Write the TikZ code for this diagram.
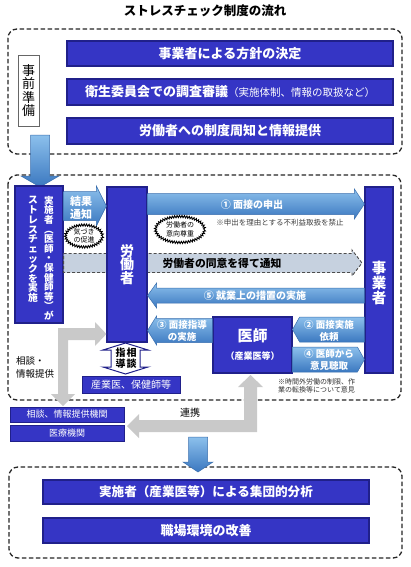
\documentclass[tikz,border=0pt]{standalone}
\usepackage{fontspec}
\setmainfont{Noto Sans CJK JP}
\usetikzlibrary{calc,shapes.geometric,decorations.pathmorphing}
\definecolor{boxblue}{HTML}{3535C5}
\definecolor{boxedge}{HTML}{20208A}
\definecolor{arrowtop}{HTML}{8CC0EC}
\definecolor{arrowbot}{HTML}{3B78C0}
\definecolor{arrowedge}{HTML}{3A6FAE}
\definecolor{grayconn}{HTML}{C9C9C9}
\definecolor{agreefill}{HTML}{C6D1DF}
\newcommand\fs[1]{\fontsize{#1}{#1}\selectfont}
\newcommand\fss[2]{\fontsize{#1}{#2}\selectfont}
% horizontal block arrow: [style]{start}{tip}{half body}{half head}{head length}
\newcommand\harrow[6][]{%
 \path[#1] let \p1=#2, \p2=#3, \n1={ifthenelse(\x2>\x1,1,-1)} in
 (\x1,{\y1+#4}) -- ({\x2-\n1*#6},{\y1+#4}) -- ({\x2-\n1*#6},{\y1+#5}) -- (\x2,\y1)
 -- ({\x2-\n1*#6},{\y1-#5}) -- ({\x2-\n1*#6},{\y1-#4}) -- (\x1,{\y1-#4}) -- cycle;}
\newcommand\varrow[6][]{%
 \path[#1] let \p1=#2, \p2=#3, \n1={ifthenelse(\y2>\y1,1,-1)} in
 ({\x1+#4},\y1) -- ({\x1+#4},{\y2-\n1*#6}) -- ({\x1+#5},{\y2-\n1*#6}) -- (\x1,\y2)
 -- ({\x1-#5},{\y2-\n1*#6}) -- ({\x1-#4},{\y2-\n1*#6}) -- ({\x1-#4},\y1) -- cycle;}
\begin{document}
\begin{tikzpicture}[x=1pt,y=-1pt,
 dashbox/.style={draw=black!85, line width=1.3pt, dash pattern=on 4.5pt off 2.5pt, rounded corners=9pt},
 bluebox/.style={draw=boxedge, line width=1.2pt, fill=boxblue, text=white, inner sep=0pt, align=center},
 barbox/.style={bluebox, minimum width=326pt},
 barrow/.style={draw=arrowedge, line width=0.5pt, top color=arrowtop, bottom color=arrowbot},
 agree/.style={draw=black!70, line width=0.9pt, dash pattern=on 3pt off 2pt, fill=agreefill},
 grayarrow/.style={fill=grayconn},
 lbl/.style={inner sep=0pt, align=center},
 wlbl/.style={lbl, text=white, font=\bfseries},
 cloudtext/.style={lbl, font=\fss{7}{8.5}},
 cloudring/.style={draw=black, fill=white, line width=0.9pt, decorate, decoration={zigzag, segment length=2.4pt, amplitude=1.1pt}},
]
\useasboundingbox (0,0) rectangle (410,567);
\fill[white] (0,0) rectangle (410,567);

% title
\node[lbl, font=\bfseries\fs{12.5}] (title) at (205,11) {ストレスチェック制度の流れ};

% preparation block
\draw[dashbox] (8,29) rectangle (402,154);
\node[draw=black!60, line width=0.8pt, fill=white, minimum width=21pt, minimum height=71pt, inner sep=0pt, align=center, font=\fss{13}{13.5}] (prep) at (28.5,90.5) {事\\前\\準\\備};
\node[barbox, minimum height=25pt, font=\bfseries\fs{13}] (b1) at (230,53.5) {事業者による方針の決定};
\node[barbox, minimum height=26pt] (b2) at (230,92) {\bfseries\fs{13}衛生委員会での調査審議\mdseries\fs{10.5}（実施体制、情報の取扱など）};
\node[barbox, minimum height=26pt, font=\bfseries\fs{13}] (b3) at (230,131) {労働者への制度周知と情報提供};

% middle block
\draw[dashbox] (8,175) rectangle (401,400);
\coordinate (pa) at (40,135);
\coordinate (pb) at (40,187);
\varrow[barrow]{(pa)}{(pb)}{9.5pt}{19pt}{11pt}

\node[bluebox, minimum width=48pt, minimum height=137pt] (impl) at (39,254.5) {};
\node[wlbl, font=\bfseries\fs{9.6}, anchor=north] (implA) at (49,196) {実\\施\\者\\︵\\医\\師\\・\\保\\健\\師\\等\\︶\\が};
\node[wlbl, font=\bfseries\fs{9.8}, anchor=north] (implB) at (33,196) {ス\\ト\\レ\\ス\\チ\\ェ\\ッ\\ク\\を\\実\\施};

% agreement arrow (behind worker)
\harrow[agree]{(impl.east |- 0,263)}{(362,263)}{9.5pt}{13pt}{10pt}
\node[lbl, font=\bfseries\fs{10.8}] (doui) at (222,263) {労働者の同意を得て通知};

\node[bluebox, minimum width=40pt, minimum height=155pt, font=\bfseries\fss{14}{13.8}] (worker) at (127,264.5) {労\\働\\者};
\node[bluebox, minimum width=28pt, minimum height=186pt] (employer) at (379,280) {};
\node[wlbl, font=\bfseries\fss{14.5}{15}] (employerT) at (379,283) {事\\業\\者};
\node[bluebox, minimum width=79pt, minimum height=56pt] (doctor) at (252.5,345) {};
\node[wlbl, font=\bfseries\fs{15}] (doctorA) at (252.5,336) {医師};
\node[wlbl, font=\bfseries\fs{9}] (doctorB) at (252.5,356) {（産業医等）};

% result notice
\harrow[barrow]{(impl.east |- 0,206)}{(worker.west |- 0,206)}{14.5pt}{20pt}{10pt}
\node[wlbl, font=\bfseries\fss{11}{13}] (kekka) at (81,208) {結果\\通知};
\coordinate (kz) at (84,236);
\draw[cloudring] (kz) ellipse [x radius=18.5pt, y radius=11pt];
\node[cloudtext] (kizuki) at (kz) {気づき\\の促進};

% (1)
\harrow[barrow]{(worker.east |- 0,204)}{(employer.west |- 0,204)}{10.5pt}{15pt}{10pt}
\node[wlbl, font=\bfseries\fs{10}] (m1) at (252,205) {① 面接の申出};
\node[lbl, font=\fs{7.5}, text=black!75] (n1) at (280,223) {※申出を理由とする不利益取扱を禁止};
\coordinate (ik) at (180,229.5);
\draw[cloudring] (ik) ellipse [x radius=24.5pt, y radius=13pt];
\node[cloudtext] (ikou) at (ik) {労働者の\\意向尊重};

% (5)
\harrow[barrow]{(employer.west |- 0,295.5)}{(worker.east |- 0,295.5)}{7.5pt}{12.5pt}{9pt}
\node[wlbl, font=\bfseries\fs{10}] (m5) at (255,296) {⑤ 就業上の措置の実施};

% (3)
\harrow[barrow]{(doctor.west |- 0,330.5)}{(worker.east |- 0,330.5)}{12pt}{14.5pt}{9pt}
\node[wlbl, font=\bfseries\fss{9.5}{12}] (m3) at (182,331) {③ 面接指導\\の実施};

% (2) and (4)
\harrow[barrow]{(employer.west |- 0,329.5)}{(doctor.east |- 0,329.5)}{12.5pt}{12.5pt}{7pt}
\node[wlbl, font=\bfseries\fss{9.5}{12}] (m2) at (329,331) {② 面接実施\\依頼};
\harrow[barrow]{(doctor.east |- 0,359.5)}{(employer.west |- 0,359.5)}{12.5pt}{12.5pt}{7pt}
\node[wlbl, font=\bfseries\fss{9.5}{12}] (m4) at (329,360) {④ 医師から\\意見聴取};
\node[lbl, align=left, anchor=north west, font=\fss{7}{8.5}, text=black!80] (n2) at (278,378) {※時間外労働の制限、作\\業の転換等について意見};

% guidance / consultation
\draw[draw=boxedge, line width=1pt, fill=white] (125.5,343) -- (148,350) -- (140,350) -- (140,367) -- (148,367) -- (125.5,374) -- (103,367) -- (111,367) -- (111,350) -- (103,350) -- cycle;
\node[lbl, font=\bfseries\fss{10}{11}] (shido) at (126,358.5) {指\hspace{1pt}相\\導\hspace{1pt}談};
\node[bluebox, minimum width=98pt, minimum height=17pt, font=\fs{10}, line width=1pt] (sangyo) at (131,384.5) {産業医、保健師等};

\node[lbl, align=left, anchor=north west, font=\fss{9.5}{13}] (soudanL) at (16,356) {相談・\\情報提供};

% gray connectors
\fill[grayarrow] (58,328) -- (95,328) -- (95,322) -- (worker.west |- 0,334) -- (95,346) -- (95,340) -- (68,340) -- (68,394) -- (75,394) -- (63,406) -- (51,394) -- (58,394) -- cycle;
\fill[grayarrow] (127,426) -- (139,414) -- (139,420) -- (244,420) -- (244,387) -- (238,387) -- (250.5,375) -- (263,387) -- (257,387) -- (257,432) -- (139,432) -- (139,438) -- cycle;

\node[bluebox, minimum width=114pt, minimum height=15pt, font=\fs{9}, line width=0.8pt] (consult) at (67,414.5) {相談、情報提供機関};
\node[bluebox, minimum width=114pt, minimum height=16pt, font=\fs{9}, line width=0.8pt] (medical) at (67,433) {医療機関};
\node[lbl, font=\fs{10}] (renkei) at (190,413) {連携};

% bottom block
\draw[dashbox] (9,467) rectangle (402,558);
\coordinate (qa) at (198,437);
\coordinate (qb) at (198,472);
\varrow[barrow]{(qa)}{(qb)}{9.5pt}{15pt}{10pt}
\node[barbox, minimum height=24pt, font=\bfseries\fs{12.6}] (b4) at (206,492) {実施者（産業医等）による集団的分析};
\node[barbox, minimum height=25pt, font=\bfseries\fs{13}] (b5) at (206,530.5) {職場環境の改善};
\end{tikzpicture}
\end{document}
